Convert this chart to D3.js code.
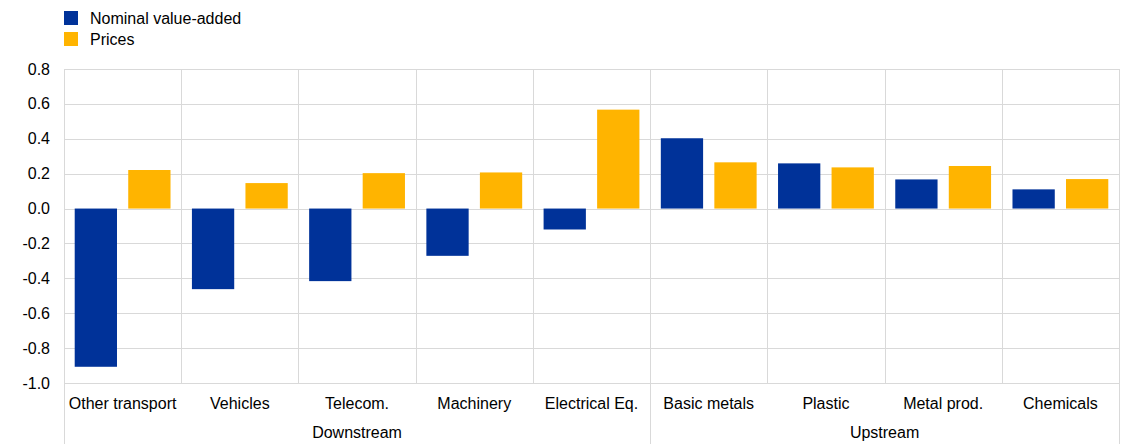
<!DOCTYPE html>
<html>
<head>
<meta charset="utf-8">
<script src="https://cdn.jsdelivr.net/npm/d3@7"></script>
<style>
  html, body { margin: 0; padding: 0; background: #fff; }
  svg { display: block; }
  text { font-family: "Liberation Sans", Arial, sans-serif; fill: #000; }
</style>
</head>
<body>
<div id="chart"></div>
<script>
const categories = ["Other transport", "Vehicles", "Telecom.", "Machinery", "Electrical Eq.",
                    "Basic metals", "Plastic", "Metal prod.", "Chemicals"];
const groupOf = ["Downstream", "Downstream", "Downstream", "Downstream", "Downstream",
                 "Upstream", "Upstream", "Upstream", "Upstream"];
const groups = ["Downstream", "Upstream"];
const seriesNames = ["Nominal value-added", "Prices"];
const nominalValueAdded = [-0.907, -0.462, -0.416, -0.271, -0.120, 0.403, 0.259, 0.167, 0.110];
const prices = [0.221, 0.146, 0.203, 0.207, 0.567, 0.265, 0.236, 0.244, 0.169];
const yTicks = [-1.0, -0.8, -0.6, -0.4, -0.2, 0.0, 0.2, 0.4, 0.6, 0.8];
const colors = ["#003299", "#FFB400"];

(function () {
const W = 1122, H = 444;
const pLeft = 64, pRight = 1119, pTop = 69, pBottom = 383;
const fontSize = 16;

const svg = d3.select("#chart").append("svg").attr("width", W).attr("height", H);

const x0 = d3.scaleBand().domain(categories).range([pLeft, pRight]).paddingInner(0).paddingOuter(0);
const x1 = d3.scaleBand().domain(seriesNames).range([0, x0.bandwidth()]).paddingInner(0.21).paddingOuter(0.2);
const y = d3.scaleLinear().domain([-1.0, 0.8]).range([pBottom, pTop]);

const grid = "#d9d9d9";

svg.append("g").selectAll("line").data(yTicks).join("line")
  .attr("x1", pLeft).attr("x2", pRight)
  .attr("y1", d => Math.round(y(d)) + 0.5).attr("y2", d => Math.round(y(d)) + 0.5)
  .attr("stroke", grid).attr("stroke-width", 1);

const bounds = categories.map(c => x0(c)).concat([pRight]);
svg.append("g").selectAll("line").data(bounds).join("line")
  .attr("x1", d => Math.round(d) + 0.5).attr("x2", d => Math.round(d) + 0.5)
  .attr("y1", pTop).attr("y2", pBottom)
  .attr("stroke", grid).attr("stroke-width", 1);

const groupBounds = [pLeft];
groups.forEach(g => {
  const idx = groupOf.lastIndexOf(g);
  groupBounds.push(x0(categories[idx]) + x0.bandwidth());
});
svg.append("g").selectAll("line").data(groupBounds).join("line")
  .attr("x1", d => Math.round(d) + 0.5).attr("x2", d => Math.round(d) + 0.5)
  .attr("y1", pBottom).attr("y2", H)
  .attr("stroke", grid).attr("stroke-width", 1);

const seriesData = [nominalValueAdded, prices];
const barG = svg.append("g");
categories.forEach((c, i) => {
  seriesNames.forEach((s, j) => {
    const v = seriesData[j][i];
    barG.append("rect")
      .attr("x", x0(c) + x1(s))
      .attr("width", x1.bandwidth())
      .attr("y", y(Math.max(0, v)))
      .attr("height", Math.abs(y(v) - y(0)))
      .attr("fill", colors[j]);
  });
});

svg.append("g").selectAll("text").data(yTicks).join("text")
  .attr("x", 50).attr("y", d => y(d))
  .attr("dy", "0.35em")
  .attr("text-anchor", "end")
  .attr("font-size", fontSize)
  .text(d => d.toFixed(1));

svg.append("g").selectAll("text").data(categories).join("text")
  .attr("x", d => x0(d) + x0.bandwidth() / 2)
  .attr("y", 403).attr("dy", "0.35em")
  .attr("text-anchor", "middle")
  .attr("font-size", fontSize)
  .text(d => d);

svg.append("g").selectAll("text").data(groups).join("text")
  .attr("x", g => {
    const first = groupOf.indexOf(g), last = groupOf.lastIndexOf(g);
    return (x0(categories[first]) + x0(categories[last]) + x0.bandwidth()) / 2;
  })
  .attr("y", 432).attr("dy", "0.35em")
  .attr("text-anchor", "middle")
  .attr("font-size", fontSize)
  .text(d => d);

const leg = svg.append("g");
seriesNames.forEach((s, j) => {
  const yy = 11 + j * 21;
  leg.append("rect").attr("x", 64).attr("y", yy).attr("width", 14).attr("height", 14).attr("fill", colors[j]);
  leg.append("text").attr("x", 90).attr("y", yy + 7).attr("dy", "0.35em")
    .attr("font-size", fontSize).text(s);
});
})();
</script>
</body>
</html>
